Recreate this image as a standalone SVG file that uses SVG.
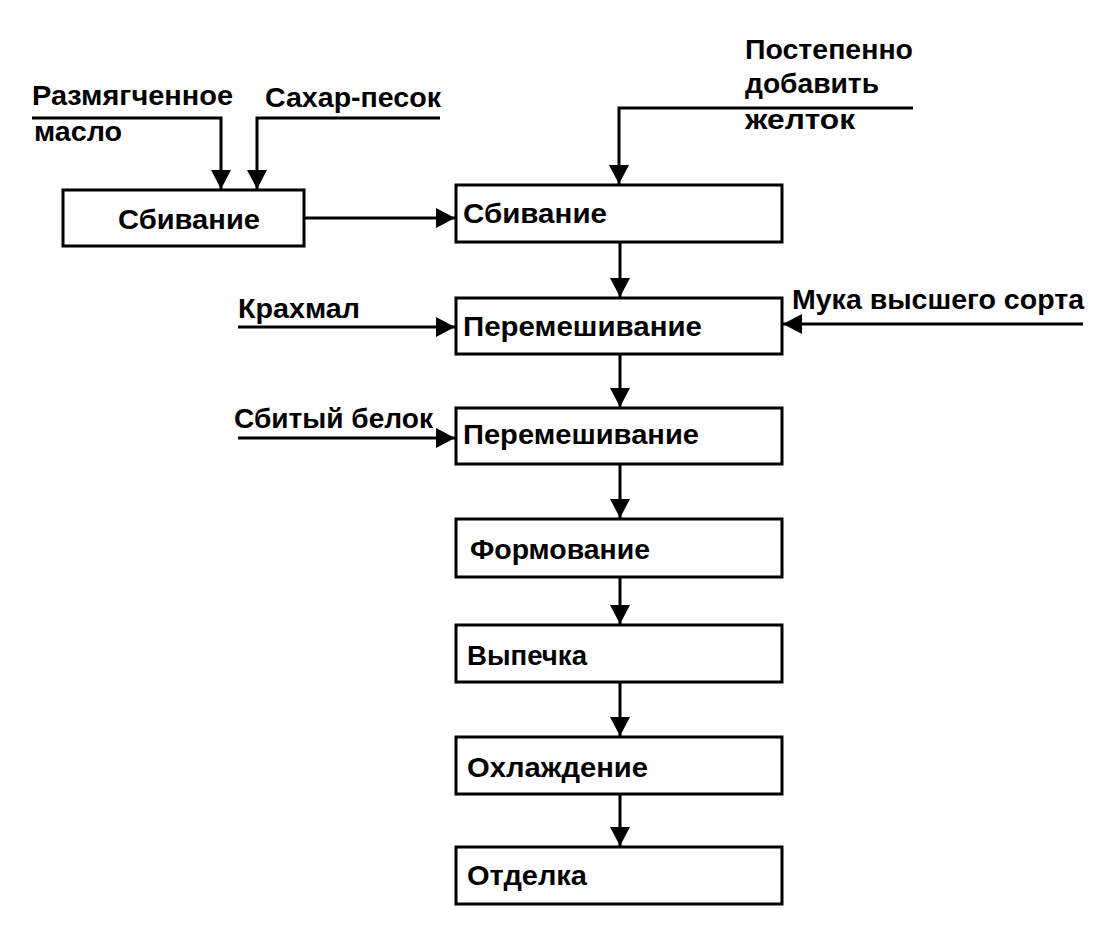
<svg xmlns="http://www.w3.org/2000/svg" width="1098" height="940" viewBox="0 0 1098 940">
<style>
.box{fill:#fff;stroke:#000;stroke-width:3}
.ln{fill:none;stroke:#000;stroke-width:3}
text{font-family:"Liberation Sans",Arial,sans-serif;font-weight:bold;font-size:28px;fill:#000}
</style>
<defs>
<marker id="ah" markerUnits="userSpaceOnUse" markerWidth="22" markerHeight="22" viewBox="0 0 22 22" refX="19" refY="11" orient="auto">
<path d="M0,1 L19,11 L0,21 Z" fill="#000"/>
</marker>
</defs>
<rect width="1098" height="940" fill="#fff"/>
<g id="connectors">
<path class="ln" d="M32,118 H221 V189" marker-end="url(#ah)"/>
<path class="ln" d="M440,118 H257 V189" marker-end="url(#ah)"/>
<path class="ln" d="M913,108 H619 V184" marker-end="url(#ah)"/>
<path class="ln" d="M305,218 H455" marker-end="url(#ah)"/>
<path class="ln" d="M620,243 V297" marker-end="url(#ah)"/>
<path class="ln" d="M238,327 H455" marker-end="url(#ah)"/>
<path class="ln" d="M1083,324 H783" marker-end="url(#ah)"/>
<path class="ln" d="M620,355 V407" marker-end="url(#ah)"/>
<path class="ln" d="M238,438 H455" marker-end="url(#ah)"/>
<path class="ln" d="M620,464 V518" marker-end="url(#ah)"/>
<path class="ln" d="M620,578 V624" marker-end="url(#ah)"/>
<path class="ln" d="M620,682 V736" marker-end="url(#ah)"/>
<path class="ln" d="M620,794 V846" marker-end="url(#ah)"/>
</g>
<g id="labels">
<text x="32" y="105" textLength="201" lengthAdjust="spacingAndGlyphs">Размягченное</text>
<text x="34" y="141" textLength="88" lengthAdjust="spacingAndGlyphs">масло</text>
<text x="265" y="107" textLength="176" lengthAdjust="spacingAndGlyphs">Сахар-песок</text>
<text x="745" y="59" textLength="168" lengthAdjust="spacingAndGlyphs">Постепенно</text>
<text x="745" y="93" textLength="134" lengthAdjust="spacingAndGlyphs">добавить</text>
<text x="745" y="129" textLength="110" lengthAdjust="spacingAndGlyphs">желток</text>
<text x="238" y="318" textLength="122" lengthAdjust="spacingAndGlyphs">Крахмал</text>
<text x="792" y="309" textLength="292" lengthAdjust="spacingAndGlyphs">Мука высшего сорта</text>
<text x="234" y="428" textLength="199" lengthAdjust="spacingAndGlyphs">Сбитый белок</text>
</g>
<g id="n0"><rect class="box" x="63" y="190" width="241" height="56"/><text x="118" y="229" textLength="142" lengthAdjust="spacingAndGlyphs">Сбивание</text></g>
<g id="n1"><rect class="box" x="456" y="185" width="326" height="57"/><text x="463" y="223" textLength="144" lengthAdjust="spacingAndGlyphs">Сбивание</text></g>
<g id="n2"><rect class="box" x="456" y="298" width="326" height="56"/><text x="463" y="336" textLength="239" lengthAdjust="spacingAndGlyphs">Перемешивание</text></g>
<g id="n3"><rect class="box" x="456" y="408" width="326" height="56"/><text x="463" y="444" textLength="236" lengthAdjust="spacingAndGlyphs">Перемешивание</text></g>
<g id="n4"><rect class="box" x="456" y="519" width="326" height="58"/><text x="470" y="559" textLength="180" lengthAdjust="spacingAndGlyphs">Формование</text></g>
<g id="n5"><rect class="box" x="456" y="625" width="326" height="57"/><text x="467" y="665" textLength="120" lengthAdjust="spacingAndGlyphs">Выпечка</text></g>
<g id="n6"><rect class="box" x="456" y="737" width="326" height="57"/><text x="467" y="777" textLength="181" lengthAdjust="spacingAndGlyphs">Охлаждение</text></g>
<g id="n7"><rect class="box" x="456" y="847" width="326" height="57"/><text x="467" y="885" textLength="120" lengthAdjust="spacingAndGlyphs">Отделка</text></g>
</svg>
